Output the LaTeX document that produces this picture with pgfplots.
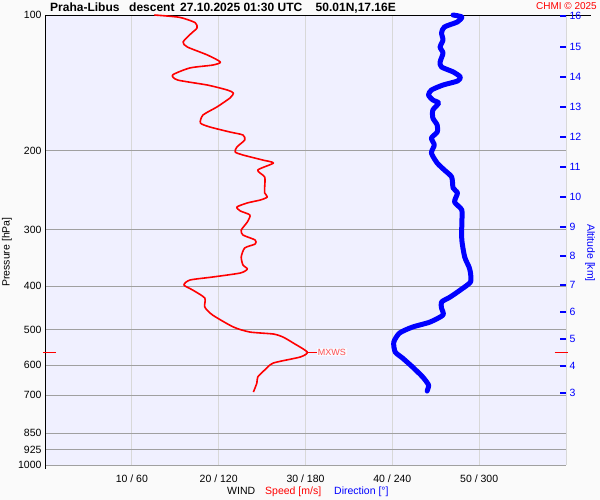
\documentclass[border=0pt]{standalone}
\usepackage{pgfplots}
\pgfplotsset{compat=1.18}
\usepackage{fontspec}
\setmainfont{Liberation Sans}
\definecolor{outerbg}{HTML}{FAFAFA}
\definecolor{plotbg}{HTML}{F0F0FF}
\definecolor{hgrid}{HTML}{A0A0A0}
\definecolor{vgrid}{HTML}{D8D8D8}
\definecolor{spd}{HTML}{FF0000}
\definecolor{dirc}{HTML}{0000FF}
\definecolor{mxws}{HTML}{FF5050}
\begin{document}
\begin{tikzpicture}
\fill[outerbg] (0,0) rectangle (600pt,500pt);
% ---------- speed axis (m/s) ----------
\begin{axis}[
  at={(45pt,35pt)}, anchor=south west, scale only axis,
  width=521pt, height=450pt,
  xmin=0, xmax=60, ymode=log, ymin=100, ymax=1000, y dir=reverse,
  axis background/.style={fill=plotbg},
  axis line style={draw=none},
  xtick={10,20,30,40,50,60},
  xticklabels={10 / 60,20 / 120,30 / 180,40 / 240,50 / 300,{}},
  ytick={100,200,300,400,500,600,700,850,925,1000},
  yticklabels={100,200,300,400,500,600,700,850,925,1000},
  major tick length=0pt,
  xmajorgrids, ymajorgrids,
  x grid style={vgrid, line width=0.8pt},
  y grid style={hgrid, line width=0.8pt},
  ticklabel style={font=\fontsize{10.5}{12}\selectfont},
  xticklabel style={anchor=base, yshift=-17pt},
  /pgf/number format/assume math mode=true,
  clip=false,
]
\draw[black, line width=0.8pt] (axis cs:0,100) -- (axis cs:0,1020);
\draw[black, line width=0.8pt] (axis cs:0,100) -- (axis cs:62.9,100);
\draw[spd, line width=0.8pt] (axis cs:-0.25,561) -- (axis cs:1.3,561);
\draw[spd, line width=0.8pt] (axis cs:58.7,561) -- (axis cs:60.25,561);
\draw[spd, line width=0.8pt] (axis cs:30.2,561) -- (axis cs:31.3,561);
\node[anchor=west, fill=white, fill opacity=0.6, text opacity=1, text=mxws, inner sep=1pt, font=\fontsize{9}{10}\selectfont] at (axis cs:31.3,561) {MXWS};
\addplot[spd, line width=1.6pt, line join=round, smooth, tension=0.4] coordinates {
(12.6,100) (15.5,101.2) (17.3,104.0) (17.5,106.9) (16.9,109.6) (15.9,114.8) (16.4,117.8)
(18.7,122.7) (20.2,127.2) (19.3,129.2) (16.7,131.1) (14.7,135.9) (15.3,139.5)
(18.7,143.1) (21.0,146.8) (21.7,149.1) (21.3,152.9) (19.8,160.1) (18.2,166.8)
(17.9,173.8) (19.0,177.4) (21.3,182.0) (22.8,184.8) (23.0,189.6) (22.1,196.5)
(21.9,201.6) (22.8,204.7) (25.1,210.1) (26.3,213.3) (24.5,221.1) (25.3,229.1)
(25.3,241.1) (25.3,248.6) (25.6,253.8) (24.8,257.7) (23.3,261.6) (22.1,267.1)
(22.5,272.6) (23.6,278.3) (23.3,288.4) (22.6,300.5) (22.8,308.3) (24.2,316.2)
(24.2,322.8) (23.0,329.4) (22.6,345.0) (22.8,359.4) (23.3,366.8) (22.5,374.4)
(19.3,382.2) (16.7,388.1) (16.0,398.1) (17.0,408.4) (18.4,425.5) (18.4,445.6)
(19.3,464.2) (21.7,493.6) (23.6,506.4) (26.3,511.6) (27.4,519.5) (28.6,535.8)
(30.2,561.0) (29.4,575.4) (26.3,593.4) (25.3,615.0) (24.5,637.5) (24.4,657.4)
(24.0,688.4)
};
\end{axis}
% ---------- direction axis (deg) + altitude ticks ----------
\begin{axis}[
  at={(45pt,35pt)}, anchor=south west, scale only axis,
  width=521pt, height=450pt,
  xmin=0, xmax=360, ymode=log, ymin=100, ymax=1000, y dir=reverse,
  hide x axis,
  axis y line*=right,
  axis line style={draw=none},
  ytick={100.5,117.8,137.3,160.1,186.7,217.6,253.8,295.9,343.2,398.1,457.1,524.8,602.6,691.8},
  yticklabels={16,15,14,13,12,11,10,9,8,7,6,5,4,3},
  minor ytick={},
  tick align=inside, major tick length=6pt,
  ytick style={dirc, line width=1.2pt},
  yticklabel style={text=dirc, font=\fontsize{10.5}{12}\selectfont},
  /pgf/number format/assume math mode=true,
  clip=false,
]
\addplot[dirc, line width=5pt, line join=round, line cap=round, smooth, tension=0.4] coordinates {
(282,100) (288,101.0) (285,103.6) (276,106.3) (274,109.6) (275,113.6) (273,117.8)
(275,121.5) (273,127.2) (274,130.5) (282,133.8) (287,137.3) (285,140.2) (275,143.1)
(267,146.8) (265,150.6) (268,154.5) (272,156.9) (268,162.6) (268,169.4) (271,175.6)
(271,182.0) (267,187.7) (269,194.5) (267,202.6) (271,213.3) (276,221.1) (281,229.1)
(282,242.3) (285,248.6) (283,260.3) (288,271.2) (288,289.9) (288,316.2) (290,345.0)
(293,363.1) (294,374.4) (294,392.2) (287,408.4) (280,423.3) (274,434.3) (274,447.9)
(275,464.2) (266,481.2) (254,493.6) (245,509.0) (241,533.1) (242,561.0) (247,578.4)
(254,605.8) (261,637.5) (265,664.2) (264,684.9)
};
\end{axis}
% ---------- texts ----------
\begin{scope}[every node/.style={inner sep=0pt}]
\node[anchor=base west, font=\fontsize{12}{14}\selectfont\bfseries] at (50pt,488pt) {Praha-Libus};
\node[anchor=base west, font=\fontsize{12}{14}\selectfont\bfseries] at (129pt,488pt) {descent};
\node[anchor=base west, font=\fontsize{12}{14}\selectfont\bfseries] at (180pt,488pt) {27.10.2025 01:30 UTC};
\node[anchor=base east, font=\fontsize{12}{14}\selectfont\bfseries] at (396pt,488pt) {50.01N,17.16E};
\node[anchor=base east, text=spd, font=\fontsize{10}{12}\selectfont] at (597pt,490.5pt) {CHMI © 2025};
\node[rotate=90, font=\fontsize{10.5}{12}\selectfont] at (7pt,248pt) {Pressure [hPa]};
\node[rotate=-90, text=dirc, font=\fontsize{10.5}{12}\selectfont] at (590pt,247pt) {Altitude [km]};
\node[anchor=base west, font=\fontsize{10.5}{12}\selectfont] at (227pt,5pt) {WIND};
\node[anchor=base west, text=spd, font=\fontsize{10.5}{12}\selectfont] at (265pt,5pt) {Speed [m/s]};
\node[anchor=base west, text=dirc, font=\fontsize{10.5}{12}\selectfont] at (334pt,5pt) {Direction [°]};
\end{scope}
\pgfresetboundingbox
\path[use as bounding box] (0,0) rectangle (600pt,500pt);
\end{tikzpicture}
\end{document}
